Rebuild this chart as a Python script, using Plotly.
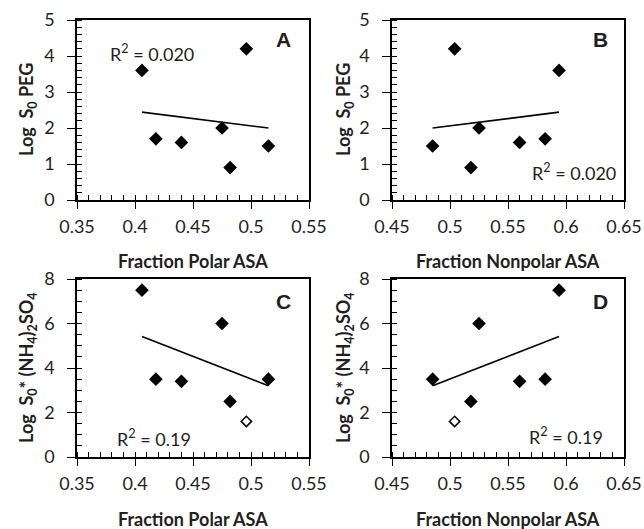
import numpy as np
import plotly.graph_objects as go

# ---- data ----
fraction_polar = [0.406, 0.418, 0.440, 0.475, 0.482, 0.496, 0.515]
fraction_nonpolar = [0.594, 0.582, 0.560, 0.525, 0.518, 0.504, 0.485]
log_s0_peg = [3.6, 1.7, 1.6, 2.0, 0.9, 4.2, 1.5]
log_s0_amsulf = [7.5, 3.5, 3.4, 6.0, 2.5, 1.6, 3.5]
amsulf_excluded = [False, False, False, False, False, True, False]  # open diamond
r2_labels = ["R<sup>2</sup> = 0.020", "R<sup>2</sup> = 0.020", "R<sup>2</sup> = 0.19", "R<sup>2</sup> = 0.19"]
panel_letters = ["A", "B", "C", "D"]
x_titles = ["Fraction Polar ASA", "Fraction Nonpolar ASA"]
y_titles = ["Log  S<sub>0</sub> PEG", "Log  S<sub>0</sub>* (NH<sub>4</sub>)<sub>2</sub>SO<sub>4</sub>"]

W, H = 644, 529
FONT = "Lato, 'Open Sans', sans-serif"
INK = "#231f20"

def px_x(p):
    return p / W

def px_y(p):
    return 1 - p / H

# panel pixel boxes (left, right, top, bottom)
boxes = {
    1: (77, 309, 20, 200),
    2: (392, 624, 20, 200),
    3: (77, 309, 279, 457),
    4: (392, 624, 279, 457),
}

panels = [
    # idx, x data, y data, excluded mask, xrange, yrange, ydtick, yminor
    (1, fraction_polar, log_s0_peg, [False] * 7, [0.35, 0.55], [0, 5], 1, 0.2),
    (2, fraction_nonpolar, log_s0_peg, [False] * 7, [0.45, 0.65], [0, 5], 1, 0.2),
    (3, fraction_polar, log_s0_amsulf, amsulf_excluded, [0.35, 0.55], [0, 8], 2, 0.5),
    (4, fraction_nonpolar, log_s0_amsulf, amsulf_excluded, [0.45, 0.65], [0, 8], 2, 0.5),
]

fig = go.Figure()
layout = dict(
    width=W, height=H, margin=dict(l=0, r=0, t=0, b=0, autoexpand=False),
    paper_bgcolor="white", plot_bgcolor="white", showlegend=False,
    font=dict(family=FONT, size=18, color=INK),
)
annotations = []

for idx, xs, ys, excl, xr, yr, ydt, ymin in panels:
    sfx = "" if idx == 1 else str(idx)
    xa, ya = "x" + sfx, "y" + sfx
    l, r, t, b = boxes[idx]
    xs = np.array(xs); ys = np.array(ys); excl = np.array(excl)
    keep = ~excl
    # trend line (least squares on the filled points)
    slope, icpt = np.polyfit(xs[keep], ys[keep], 1)
    lx = np.array([xs[keep].min(), xs[keep].max()])
    fig.add_trace(go.Scatter(x=lx, y=slope * lx + icpt, mode="lines",
                             line=dict(color="black", width=1.6),
                             xaxis=xa, yaxis=ya, hoverinfo="skip"))
    fig.add_trace(go.Scatter(x=xs[keep], y=ys[keep], mode="markers",
                             marker=dict(symbol="diamond", size=10.5, color="black",
                                         line=dict(width=0)),
                             xaxis=xa, yaxis=ya))
    if excl.any():
        fig.add_trace(go.Scatter(x=xs[excl], y=ys[excl], mode="markers",
                                 marker=dict(symbol="diamond-open", size=8, color="black",
                                             line=dict(width=1.5)),
                                 xaxis=xa, yaxis=ya))

    axcommon = dict(showgrid=False, zeroline=False, showline=True, linecolor="black",
                    linewidth=1.6, mirror=True, ticks="outside", tickcolor="black",
                    tickwidth=1.4, automargin=False,
                    tickfont=dict(family=FONT, size=18, color=INK))
    layout["xaxis" + sfx] = dict(
        axcommon, domain=[px_x(l), px_x(r)], range=xr, dtick=0.05, tick0=0,
        ticklen=7, anchor=ya, ticklabelstandoff=3,
        minor=dict(ticks="inside", dtick=0.01, ticklen=5, tickcolor="black", tickwidth=1.2),
    )
    layout["yaxis" + sfx] = dict(
        axcommon, domain=[px_y(b), px_y(t)], range=yr, dtick=ydt, tick0=0,
        ticklen=8, anchor=xa, ticklabelstandoff=9,
        minor=dict(ticks="inside", dtick=ymin, ticklen=5, tickcolor="black", tickwidth=1.2),
    )

    # panel letter
    letter_pos = {1: (0.888, 0.894), 2: (0.897, 0.894), 3: (0.888, 0.876), 4: (0.897, 0.876)}[idx]
    annotations.append(dict(text="<b>%s</b>" % panel_letters[idx - 1],
                            xref=xa + " domain", yref=ya + " domain",
                            x=letter_pos[0], y=letter_pos[1], showarrow=False,
                            xanchor="center", yanchor="middle",
                            font=dict(family="Arial, 'Liberation Sans', sans-serif", size=21, color=INK)))
    # R^2 label
    r2_pos = {1: (0.323, 0.817), 2: (0.784, 0.156), 3: (0.332, 0.107), 4: (0.75, 0.118)}[idx]
    annotations.append(dict(text=r2_labels[idx - 1], xref=xa + " domain", yref=ya + " domain",
                            x=r2_pos[0], y=r2_pos[1], showarrow=False,
                            xanchor="center", yanchor="middle",
                            font=dict(family=FONT, size=18, color=INK)))
    # axis titles
    xt_y = 261 if idx in (1, 2) else 519
    annotations.append(dict(text="<b>%s</b>" % x_titles[(idx - 1) % 2], xref="paper", yref="paper",
                            x=px_x((l + r) / 2), y=px_y(xt_y), showarrow=False,
                            xanchor="center", yanchor="middle",
                            font=dict(family=FONT, size=18, color=INK)))
    yt_x = 27 if idx in (1, 3) else 344
    annotations.append(dict(text="<b>%s</b>" % y_titles[(idx - 1) // 2], xref="paper", yref="paper",
                            x=px_x(yt_x), y=px_y((t + b) / 2), showarrow=False, textangle=-90,
                            xanchor="center", yanchor="middle",
                            font=dict(family=FONT, size=18, color=INK)))

layout["annotations"] = annotations
fig.update_layout(**layout)
fig.write_html("out.html")
